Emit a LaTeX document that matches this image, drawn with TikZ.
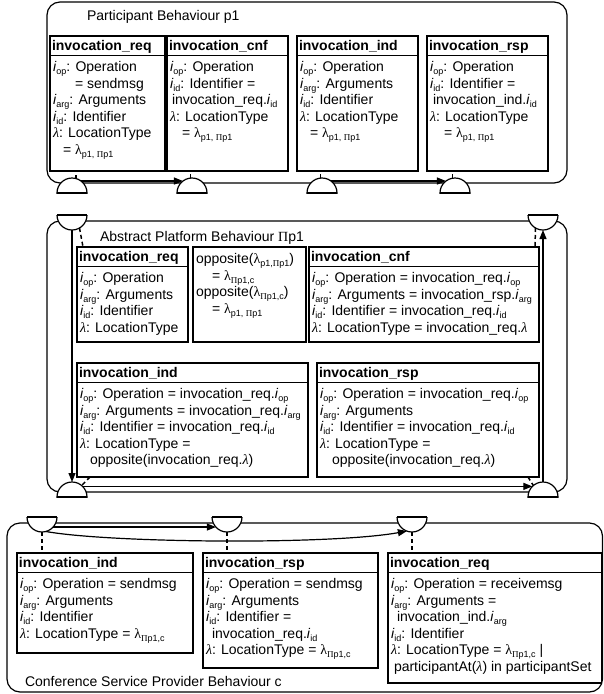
\documentclass[tikz,border=0pt]{standalone}
\usepackage{fontspec}
\setmainfont{Liberation Sans}
\newfontfamily\symf{Liberation Serif}
\usetikzlibrary{arrows.meta}
\newcommand\lsub[1]{\raisebox{-3pt}{\fontsize{9}{9}\selectfont #1}}
\newcommand\ivar[1]{\textit{i}\lsub{#1}}
\newcommand\lamit{{\symf\itshape λ}}
\newcommand\lamup{{\symf λ}}
\newcommand\Pup{{\symf Π}}
\newcommand\domeup[1]{\begin{scope}\clip (#1.center) ++(-17pt,0pt) rectangle ++(34pt,17pt);\filldraw[fill=white] (#1.center) circle[radius=15pt];\end{scope}\draw (#1.west) -- (#1.east);}
\newcommand\domedown[1]{\begin{scope}\clip (#1.center) ++(-17pt,0pt) rectangle ++(34pt,-17pt);\filldraw[fill=white] (#1.center) circle[radius=15pt];\end{scope}\draw (#1.west) -- (#1.east);}
\begin{document}
\begin{tikzpicture}[x=1pt,y=-1pt,line width=1.2pt,font=\fontsize{14}{16.6}\selectfont,
 >={Triangle[length=9pt,width=7pt]},
 every node/.style={outer sep=0pt},
 hdr/.style={draw,anchor=north west,inner xsep=2pt,inner ysep=2.75pt,text height=12pt,text depth=2pt,text width=#1,align=left,font=\fontsize{14}{16.6}\selectfont\bfseries},
 bodybox/.style={draw,anchor=north west,inner sep=0pt},
 txt/.style={anchor=north west,inner sep=0pt,align=left,execute at begin node=\strut},
 behbox/.style={draw,rounded corners=13pt,anchor=north west,inner sep=0pt},
 behtitle/.style={anchor=base west,inner sep=0pt},
 port/.style={circle,inner sep=0pt,minimum size=30pt},
 dashline/.style={dash pattern=on 4pt off 3pt,line width=1.5pt}]
\useasboundingbox (0,0) rectangle (603,694);

% behaviour frames
\node[behbox,minimum width=520pt,minimum height=181pt] (pb) at (47,2) {};
\node[behtitle] (pbt) at ([shift={(40,18.5)}]pb.north west) {Participant Behaviour p1};
\node[behbox,minimum width=520pt,minimum height=271pt] (ab) at (47,221) {};
\node[behtitle] (abt) at ([shift={(53,20.7)}]ab.north west) {Abstract Platform Behaviour \Pup p1};
\node[behbox,minimum width=595.5pt,minimum height=169pt] (cb) at (7,523) {};
\node[behtitle] (cbt) at ([shift={(18,-6)}]cb.south west) {Conference Service Provider Behaviour c};

% ---- participant boxes
\node[hdr=111pt] (a1) at (50,36) {invocation\_req};
\node[bodybox,minimum width=115pt,minimum height=115.5pt] (a1b) at (a1.south west) {};
\node[txt] (a1t) at ([shift={(3,5.9)}]a1b.north west) {\ivar{op}: Operation\\
\hspace*{22pt}= sendmsg\\
\ivar{arg}: Arguments\\
\ivar{id}: Identifier\\
\lamit: LocationType\\
\hspace*{10pt}= \lamup\lsub{p1, \Pup p1}};

\node[hdr=117pt] (a2) at (167,36) {invocation\_cnf};
\node[bodybox,minimum width=121pt,minimum height=115.5pt] (a2b) at (a2.south west) {};
\node[txt] (a2t) at ([shift={(3,5.9)}]a2b.north west) {\ivar{op}: Operation\\
\ivar{id}: Identifier =\\
\hspace*{2pt}invocation\_req.\ivar{id}\\
\lamit: LocationType\\
\hspace*{12pt}= \lamup\lsub{p1, \Pup p1}};

\node[hdr=117pt] (a3) at (297,36) {invocation\_ind};
\node[bodybox,minimum width=121pt,minimum height=115.5pt] (a3b) at (a3.south west) {};
\node[txt] (a3t) at ([shift={(3,5.9)}]a3b.north west) {\ivar{op}: Operation\\
\ivar{arg}: Arguments\\
\ivar{id}: Identifier\\
\lamit: LocationType\\
\hspace*{10pt}= \lamup\lsub{p1, \Pup p1}};

\node[hdr=117pt] (a4) at (427,36) {invocation\_rsp};
\node[bodybox,minimum width=121pt,minimum height=115.5pt] (a4b) at (a4.south west) {};
\node[txt] (a4t) at ([shift={(3,5.9)}]a4b.north west) {\ivar{op}: Operation\\
\ivar{id}: Identifier =\\
\hspace*{3pt}invocation\_ind.\ivar{id}\\
\lamit: LocationType\\
\hspace*{14pt}= \lamup\lsub{p1, \Pup p1}};

% ---- abstract platform boxes
\node[hdr=107pt] (b1) at (77,247) {invocation\_req};
\node[bodybox,minimum width=111pt,minimum height=75.5pt] (b1b) at (b1.south west) {};
\node[txt] (b1t) at ([shift={(3,5.9)}]b1b.north west) {\ivar{op}: Operation\\
\ivar{arg}: Arguments\\
\ivar{id}: Identifier\\
\lamit: LocationType};

\node[bodybox,minimum width=113pt,minimum height=95pt] (b2) at (193,247) {};
\node[txt] (b2t) at ([shift={(3,6.4)}]b2.north west) {opposite(\lamup\lsub{p1,\Pup p1})\\
\hspace*{16pt}= \lamup\lsub{\Pup p1,c}\\
opposite(\lamup\lsub{\Pup p1,c})\\
\hspace*{16pt}= \lamup\lsub{p1, \Pup p1}};

\node[hdr=226pt] (b3) at (309,247) {invocation\_cnf};
\node[bodybox,minimum width=230pt,minimum height=75.5pt] (b3b) at (b3.south west) {};
\node[txt] (b3t) at ([shift={(3,5.9)}]b3b.north west) {\ivar{op}: Operation = invocation\_req.\ivar{op}\\
\ivar{arg}: Arguments = invocation\_rsp.\ivar{arg}\\
\ivar{id}: Identifier = invocation\_req.\ivar{id}\\
\lamit: LocationType = invocation\_req.\lamit};

\node[hdr=227pt] (b4) at (77,363) {invocation\_ind};
\node[bodybox,minimum width=231pt,minimum height=94.5pt] (b4b) at (b4.south west) {};
\node[txt] (b4t) at ([shift={(3,5.9)}]b4b.north west) {\ivar{op}: Operation = invocation\_req.\ivar{op}\\
\ivar{arg}: Arguments = invocation\_req.\ivar{arg}\\
\ivar{id}: Identifier = invocation\_req.\ivar{id}\\
\lamit: LocationType =\\
\hspace*{10pt}opposite(invocation\_req.\lamit)};

\node[hdr=218pt] (b5) at (317,363) {invocation\_rsp};
\node[bodybox,minimum width=222pt,minimum height=94.5pt] (b5b) at (b5.south west) {};
\node[txt] (b5t) at ([shift={(3,5.9)}]b5b.north west) {\ivar{op}: Operation = invocation\_req.\ivar{op}\\
\ivar{arg}: Arguments\\
\ivar{id}: Identifier = invocation\_req.\ivar{id}\\
\lamit: LocationType =\\
\hspace*{12pt}opposite(invocation\_req.\lamit)};

% ---- conference service provider boxes
\node[hdr=172pt] (d1) at (17,553) {invocation\_ind};
\node[bodybox,minimum width=176pt,minimum height=80.5pt] (d1b) at (d1.south west) {};
\node[txt] (d1t) at ([shift={(3,5.9)}]d1b.north west) {\ivar{op}: Operation = sendmsg\\
\ivar{arg}: Arguments\\
\ivar{id}: Identifier\\
\lamit: LocationType = \lamup\lsub{\Pup p1,c}};

\node[hdr=171pt] (d2) at (203,553) {invocation\_rsp};
\node[bodybox,minimum width=175pt,minimum height=95.5pt] (d2b) at (d2.south west) {};
\node[txt] (d2t) at ([shift={(3,5.9)}]d2b.north west) {\ivar{op}: Operation = sendmsg\\
\ivar{arg}: Arguments\\
\ivar{id}: Identifier =\\
\hspace*{6pt}invocation\_req.\ivar{id}\\
\lamit: LocationType = \lamup\lsub{\Pup p1,c}};

\node[hdr=209.5pt] (d3) at (388,553) {invocation\_req};
\node[bodybox,minimum width=213.5pt,minimum height=110.5pt] (d3b) at (d3.south west) {};
\node[txt] (d3t) at ([shift={(3,5.9)}]d3b.north west) {\ivar{op}: Operation = receivemsg\\
\ivar{arg}: Arguments =\\
\hspace*{6pt}invocation\_ind.\ivar{arg}\\
\ivar{id}: Identifier\\
\lamit: LocationType = \lamup\lsub{\Pup p1,c} |\\
\hspace*{3pt}participantAt(\lamit) in participantSet};

% ---- ports (semicircles)
\node[port] (t1) at (72,193) {};
\node[port] (t2) at (192,193) {};
\node[port] (t3) at (322,193) {};
\node[port] (t4) at (455,193) {};
\node[port] (m1) at (72,215) {};
\node[port] (m2) at (543,215) {};
\node[port] (m3) at (72,497) {};
\node[port] (m4) at (543,497) {};
\node[port] (c1) at (42,517) {};
\node[port] (c2) at (227,517) {};
\node[port] (c3) at (412,517) {};
\domeup{t1}\domeup{t2}\domeup{t3}\domeup{t4}
\domedown{m1}\domedown{m2}
\domeup{m3}\domeup{m4}
\domedown{c1}\domedown{c2}\domedown{c3}

% ---- connectors
\draw[->] (t1.53) -- (t2.127);
\draw[->] (t3.53) -- (t4.127);
\draw[dashline] (t1.75) -- (t1.75 |- a1b.south);
\draw[dashline] (t2.95) -- (t2.95 |- a2b.south);
\draw[dashline] (t3.95) -- (t3.95 |- a3b.south);
\draw[dashline] (t4.100) -- (t4.100 |- a4b.south);

\draw[->] (m1.south) -- (m3.north);
\draw[->] (m4.north) -- (m2.south);
\draw[->] (m3.45) -- (m4.135);
\draw[dashline] (m1.-60) -- ([xshift=6pt]b1.north west);
\draw[dashline] (m2.-120) -- ([xshift=-4pt]b3.north east);
\draw[dashline] ([xshift=13pt]b4b.south west) -- (m3.50);
\draw[dashline] ([xshift=-11pt]b5b.south east) -- (m4.130);

\draw[->] (c1.-42) -- (c2.-138);
\draw[->] (c1.-75) .. controls (110,543) and (330,545) .. (c3.-110);
\draw[dashline] (c1.south) -- (c1.south |- d1.north);
\draw[dashline] (c2.south) -- (c2.south |- d2.north);
\draw[dashline] (c3.south) -- (c3.south |- d3.north);
\end{tikzpicture}
\end{document}
